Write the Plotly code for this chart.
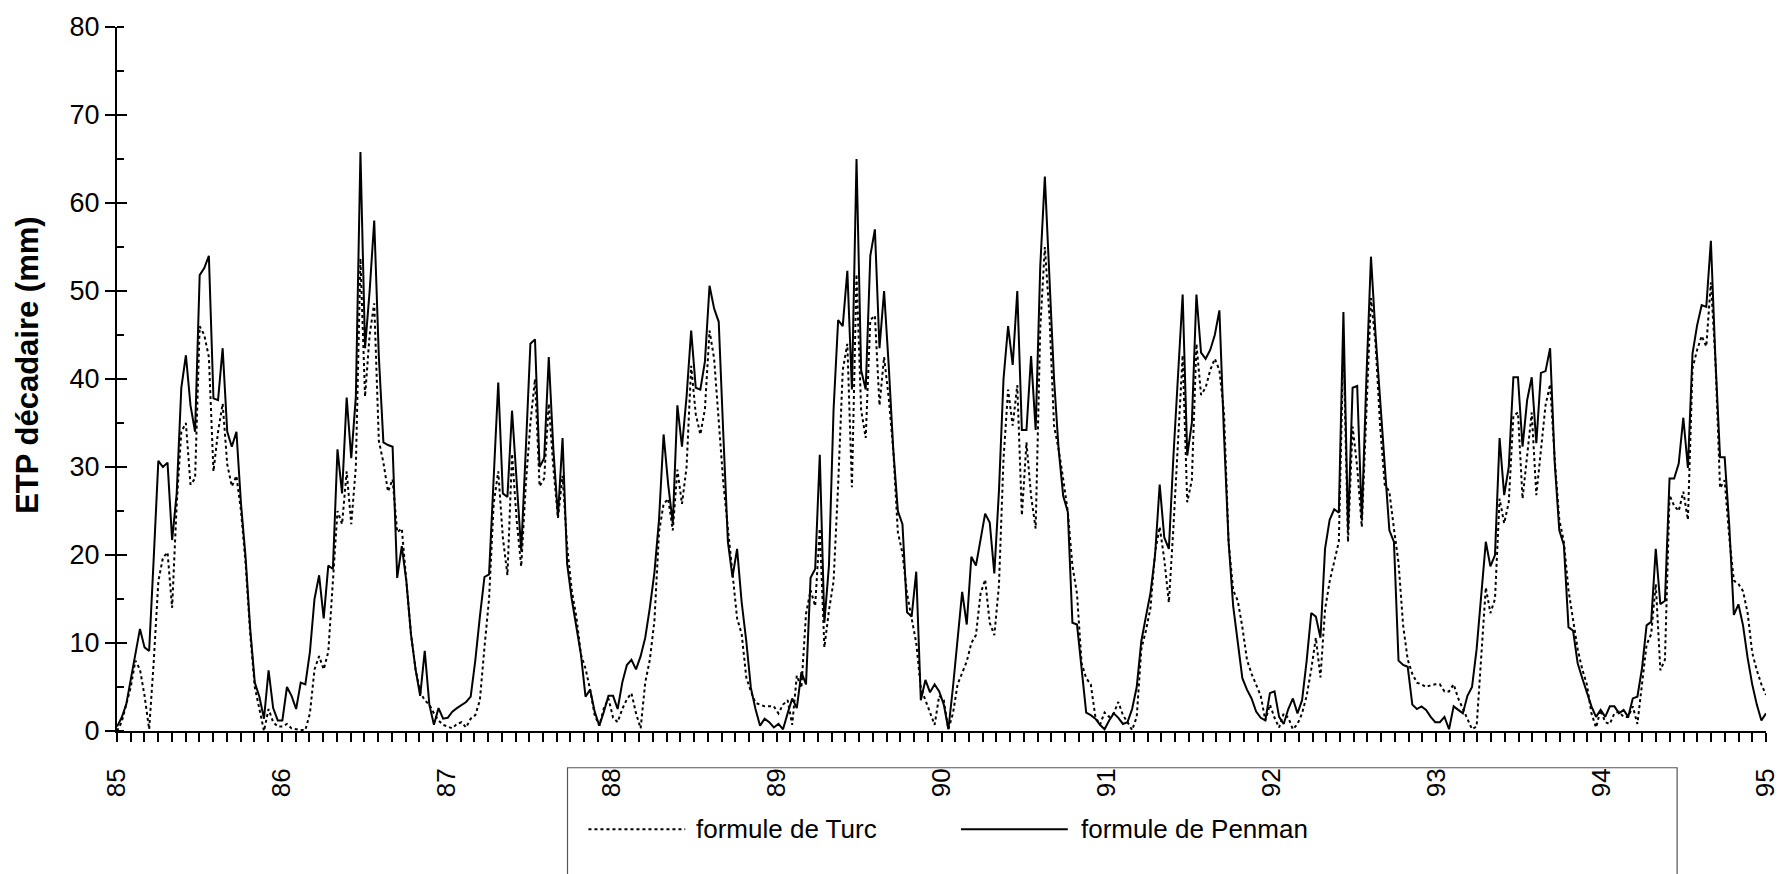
import numpy as np
import plotly.graph_objects as go

# ETP décadaire (mm), 36 décades per year, 1985-1994
penman_85 = [0.5,1.5,3,5.9,8.7,11.6,9.5,9.1,19.7,30.7,30,30.5,21.7,27,39,42.7,37,34,51.8,52.6,54,37.8,37.6,43.5,34,32.3,34,25.8,19.7,11.6,5.5,3.9,1.4,6.9,2.6,1.2]
penman_86 = [1.2,5.0,4.0,2.5,5.5,5.3,9,15,17.7,12.8,18.8,18.4,32,27,37.9,31,38,65.8,43.5,50,58,42.6,32.8,32.5,32.3,17.4,21,17,11,7,4,9.1,3,0.7,2.6,1.4]
penman_87 = [1.5,2.2,2.6,3.0,3.3,3.9,8,13,17.5,17.8,28,39.6,27,26.6,36.4,28,20.5,32,44,44.5,30,31,42.5,32,24.4,33.3,19,15,12,8.7,3.9,4.7,2.2,0.6,2.2,4.0]
penman_88 = [4.0,2.5,5.5,7.5,8.1,7.0,8.5,10.6,14,18,24,33.7,28,23.6,37,32.3,38,45.5,39,38.8,42,50.6,48,46.5,33.7,21.5,17.5,20.7,14.6,10.2,4.9,2.5,0.6,1.4,1.0,0.4]
penman_89 = [0.8,0.2,2.0,3.7,2.6,6.7,5.3,17.4,18.4,31.4,12.3,18.8,36.5,46.7,46,52.3,38.8,65,41,38.8,54,57,43.5,50,41.6,32,25,23.5,13.5,13,18.1,3.5,5.8,4.4,5.3,4.5]
penman_90 = [3,0.2,5,10,15.8,12.1,19.8,18.8,22,24.7,23.7,17.9,27.2,40,46,41.6,50,34.2,34.2,42.6,34.2,52.8,63,52,40,32,26.7,24.9,12.3,12.1,7,2.1,1.8,1.4,0.7,0.2]
penman_91 = [1.2,2.0,1.5,0.8,1.0,2.5,5,10.2,13,15.7,20,28,22,20.7,31.3,40,49.6,31.3,35,49.6,43,42.3,43.3,45,47.8,33.7,21.5,14.2,10,6,4.7,3.7,2.2,1.5,1.2,4.3]
penman_92 = [4.5,1.6,0.8,2.5,3.7,2.0,3.5,8,13.4,13,10.6,20.7,24,25.2,24.8,47.6,22.8,39,39.2,24,40,53.9,45,37.8,30,22.8,21.5,8,7.5,7.3,3,2.5,2.8,2.4,1.6,1.0]
penman_93 = [1.0,1.6,0.2,2.8,2.4,2.0,4.0,5.0,9.3,15,21.5,18.7,20,33.3,26.8,30,40.2,40.2,32.3,37.6,40.2,32.7,40.7,40.9,43.5,30.5,22.8,21.1,11.8,11.4,7.7,6,4.5,2.8,1.6,2.4]
penman_94 = [1.6,2.8,2.8,2.0,2.4,1.6,3.7,3.9,7.1,12,12.4,20.7,14.4,14.8,28.7,28.7,30.4,35.6,29.9,42.9,46.1,48.4,48.2,55.7,42.1,31.1,31.1,23.4,13.2,14.4,12,8.3,5.3,3,1.2,2.0]

turc_85 = [0,1,3,5,8,7,4,0.2,7.9,17,19.7,20.3,14,25.8,34,35,28,28.7,46,45,42.5,29.5,34,37.2,30.3,27.8,29,25,19,11,5,2.5,0,2.5,1,0.5]
turc_86 = [0.5,0.8,0.3,0.2,0.1,0.1,2,7,8.5,7,9,17,25,23.5,29.5,23.5,30,53.7,38,45,48.6,33,30.5,27.2,28.6,22.6,23,17,11,7,4.4,3.5,3,2,1.2,0.7]
turc_87 = [0.5,0.3,0.8,1.0,0.4,1.4,1.8,3.5,9.5,15,25.8,29.5,22,17.7,31.5,24,18.7,28,35,40,27.8,28.7,37.2,29.9,24.2,29,21,16,13,8.7,7.1,4.7,1.8,0.6,2.6,3.7]
turc_88 = [1.5,1.0,2.5,3.6,4.3,2.0,0.3,5.5,8.1,12.5,22.6,25.8,26.4,22.8,29.7,25.8,30,41.5,36,33.7,36.6,45.5,42.3,35.4,28.2,23,17.5,12.8,11,6.1,4.5,3.2,3,2.8,2.8,2.8]
turc_89 = [2,3.0,3.5,0.7,6.3,4.9,13.3,16,14.2,23,9.5,13.7,17,28,41,44,27.7,51.9,36.5,33.3,46.7,47.2,37,42.5,37.9,31.9,22.6,20.2,15.6,12.8,10,4.9,3.5,2.1,0.7,4.0]
turc_90 = [3.5,0.2,2,5.3,6.7,7.9,10,10.9,15.6,17.2,12.3,10.9,16.5,30.9,38.8,34.7,39.3,24.5,32.8,26.7,23,45.8,55,47.2,34.7,32,28.6,24.9,18.8,15.6,7.7,6,5.3,1.6,0.7,2.1]
turc_91 = [1.6,2.0,3.3,1.8,1,0.1,1.6,9.3,11.4,14,20.3,23.2,19.5,14.6,23.2,33.7,42.7,26,28.5,44,38.2,39,41,42.3,41,36.2,21.5,16,14.8,11.8,8.1,6.5,5.3,4,1.2,3]
turc_92 = [1.5,0.4,2,1.5,0.2,0.8,2,4,7,10.6,6.1,13.8,17,19.1,21.5,44.3,21.5,34.6,30,23.2,36.6,49.2,44,34.6,28,27.2,23,19.1,12,8.1,6.5,5.5,5.3,5.0,5.2,5.3]
turc_93 = [5.3,4.5,4.5,5.3,3.7,2.5,1.2,0.2,0.5,8.5,16.3,13.4,15,26.4,23.6,26,35.8,36.2,26.4,31.3,36.2,26.8,31.7,37,39.4,30.9,24,21.5,16,12.6,9.3,7,5.3,2,0.4,2.4]
turc_94 = [1.0,0.8,2.0,2.2,1.6,1.6,2.8,0.8,5.7,9.8,11,16.7,6.9,8.1,26.8,25.6,25,27.2,24,41.2,43.3,44.9,43.7,51,42,27.6,28.5,22,17.1,16.7,15.9,13.4,8.9,6.9,5.3,4.1]

year_ticks = [85, 86, 87, 88, 89, 90, 91, 92, 93, 94, 95]
year_labels = ["85", "86", "87", "88", "89", "90", "91", "92", "93", "94", "95"]

penman = (penman_85 + penman_86 + penman_87 + penman_88 + penman_89 +
          penman_90 + penman_91 + penman_92 + penman_93 + penman_94)
turc = (turc_85 + turc_86 + turc_87 + turc_88 + turc_89 +
        turc_90 + turc_91 + turc_92 + turc_93 + turc_94)
x = np.linspace(85, 95, len(penman))

FONT = "Liberation Sans, Arial, sans-serif"

fig = go.Figure()
fig.add_trace(go.Scatter(x=x, y=turc, mode="lines", name="formule de Turc",
                         line=dict(color="black", width=2, dash="3px,3px"),
                         showlegend=False))
fig.add_trace(go.Scatter(x=x, y=penman, mode="lines", name="formule de Penman",
                         line=dict(color="black", width=2), showlegend=False))
# helper trace so the overlaid axis (inner half of crossing ticks) is drawn
fig.add_trace(go.Scatter(x=[85], y=[0], yaxis="y2", mode="markers",
                         marker=dict(opacity=0), showlegend=False, hoverinfo="skip"))

fig.update_layout(
    width=1792, height=874,
    margin=dict(l=117, r=24, t=22, b=143),
    plot_bgcolor="white", paper_bgcolor="white",
    font=dict(family=FONT, size=26, color="black"),
    xaxis=dict(range=[85, 95], tickmode="array", tickvals=year_ticks, ticktext=year_labels,
               tickangle=-90, ticks="outside", ticklen=9, tickwidth=1.5, tickcolor="black",
               showline=True, linecolor="black", linewidth=2, showgrid=False, zeroline=False,
               tickfont=dict(size=26), ticklabelstandoff=16,
               minor=dict(tick0=85, dtick=1/12, ticks="outside", ticklen=9,
                          tickwidth=1.5, tickcolor="black", showgrid=False)),
    yaxis=dict(range=[0, 80], tickmode="linear", tick0=0, dtick=10, ticks="outside",
               ticklen=10, tickwidth=1.5, tickcolor="black", showline=True,
               linecolor="black", linewidth=2, showgrid=False, zeroline=False,
               tickfont=dict(size=27),
               minor=dict(dtick=5, ticks="inside", ticklen=7, tickwidth=1.5,
                          tickcolor="black", showgrid=False)),
    yaxis2=dict(range=[0, 80], overlaying="y", side="left", anchor="x", tickmode="linear",
                tick0=0, dtick=10, ticks="inside", ticklen=10, tickwidth=1.5,
                tickcolor="black", showticklabels=False, showline=False,
                showgrid=False, zeroline=False),
)

# y-axis title
fig.add_annotation(text="<b>ETP décadaire (mm)</b>", xref="paper", yref="paper",
                   x=-0.054, y=0.52, textangle=-90, showarrow=False,
                   font=dict(size=31, family=FONT), xanchor="center", yanchor="middle")

# legend box (drawn manually to match the long line samples)
fig.add_shape(type="rect", xref="paper", yref="paper", x0=0.2732, x1=0.9461,
              y0=-0.0522, y1=-0.26, line=dict(color="#555555", width=1.2))
fig.add_shape(type="line", xref="paper", yref="paper", x0=0.2859, x1=0.3446,
              y0=-0.1396, y1=-0.1396, line=dict(color="black", width=2, dash="3px,3px"))
fig.add_shape(type="line", xref="paper", yref="paper", x0=0.5118, x1=0.5766,
              y0=-0.1396, y1=-0.1396, line=dict(color="black", width=2))
fig.add_annotation(text="formule de Turc", xref="paper", yref="paper", x=0.3501, y=-0.1396,
                   xanchor="left", yanchor="middle", showarrow=False,
                   font=dict(size=26, family=FONT))
fig.add_annotation(text="formule de Penman", xref="paper", yref="paper", x=0.5833, y=-0.1396,
                   xanchor="left", yanchor="middle", showarrow=False,
                   font=dict(size=26, family=FONT))

fig.write_html("out.html")
